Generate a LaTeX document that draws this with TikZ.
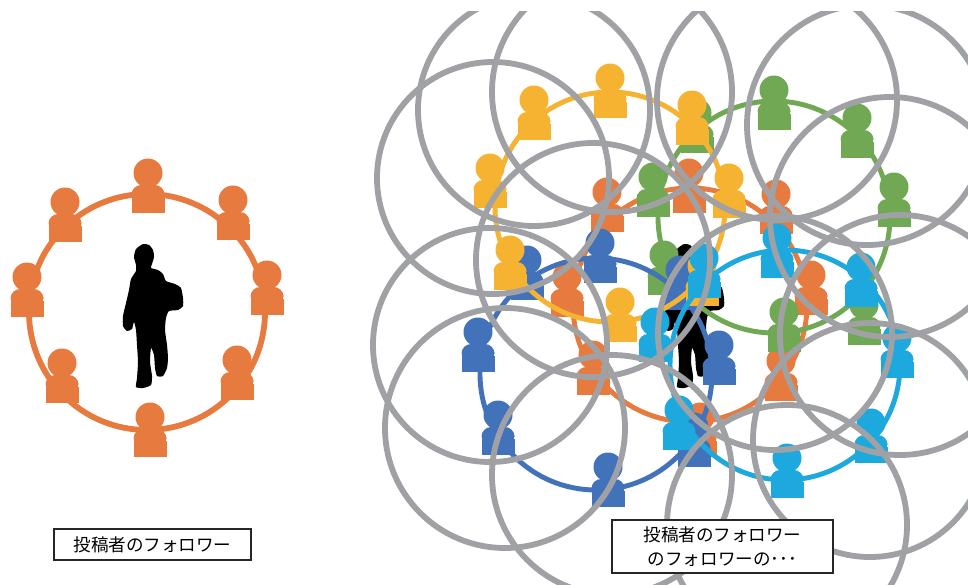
\documentclass[tikz,border=0pt]{standalone}
\usepackage{fontspec}
\newfontfamily\jpfont{Noto Sans CJK JP}
\definecolor{cOrange}{HTML}{E77B3F}
\definecolor{cYellow}{HTML}{F5B331}
\definecolor{cGreen}{HTML}{70A853}
\definecolor{cNavy}{HTML}{4272B9}
\definecolor{cSky}{HTML}{1DA9DD}
\definecolor{cGray}{HTML}{A0A1A5}
\tikzset{
  pics/person/.style={code={
    \fill[#1] (0,-24) circle[radius=14.5];
    \fill[#1,rounded corners=5.5pt] (-16.5,-12) rectangle (16.5,6);
    \fill[#1] (-16.5,0) rectangle (16.5,16);
  }},
  ring/.style={line width=2.8pt},
  bigring/.style={line width=3.3pt},
  grayring/.style={draw=cGray, line width=3.3pt},
  caption/.style={draw=black!85, fill=white, line width=0.6pt,
    font=\jpfont\fontsize{10}{13.6}\selectfont, align=center, inner sep=0pt}
}
% walking figure outline, drawn around (150,315)
\newcommand\walkerpath{plot[smooth cycle, tension=0.35] coordinates {
  (143,244) (149,245) (153,250) (154,257) (152,264) (151,268) (158,270)
  (163,274) (166,281) (175,284) (181,288) (183,298) (183,306) (178,310)
  (169,311) (166,318) (165,330) (167,345) (168,358) (167,368) (163,376)
  (157,376) (155,368) (154,355) (151,348) (150,362) (152,376) (151,385)
  (143,388) (136,387) (137,378) (138,362) (137,345) (136,330) (134,322)
  (132,329) (127,331) (123,326) (123,316) (126,303) (129,290) (131,279)
  (136,271) (136,265) (134,257) (136,249)}}
\begin{document}
\begin{tikzpicture}[x=0.02cm,y=-0.02cm]
\useasboundingbox (0,0) rectangle (968,585);
\fill[white] (0,0) rectangle (968,585);

% ---- a single poster and its followers ----
\fill[black] \walkerpath;
\draw[bigring, cOrange] (147,312) circle[radius=118];
\foreach \x/\y in {148/197, 65/226, 233/224, 27/301, 267/299, 62/387, 237/384, 150/441}
  \pic at (\x,\y) {person=cOrange};

% ---- followers of followers ----
\begin{scope}
\clip (330,11) rectangle (968,585);
\fill[black, shift={(541,0)}] \walkerpath;

\draw[ring, cOrange] (690,305) circle[radius=117];
\foreach \x/\y in {689/197, 607/216, 776/218, 567/301, 811/299, 593/379, 781/385, 700/441}
  \pic at (\x,\y) {person=cOrange};

\draw[ring, cGreen] (774,217) circle[radius=116];
\foreach \x/\y in {774/114, 857/142, 894/211, 697/137, 653/201, 664/279, 784/336, 864/329}
  \pic at (\x,\y) {person=cGreen};

\draw[ring, cNavy] (596,374) circle[radius=116];
\foreach \x/\y in {600/267, 527/284, 478/356, 498/439, 608/491, 694/451, 719/369, 680/294}
  \pic at (\x,\y) {person=cNavy};

\draw[ring, cYellow] (610,207) circle[radius=115];
\foreach \x/\y in {610/102, 534/124, 490/192, 510/274, 620/326, 692/129, 729/202, 702/290}
  \pic at (\x,\y) {person=cYellow};

\draw[ring, cSky] (785,365) circle[radius=115];
\foreach \x/\y in {777/262, 861/291, 897/362, 871/447, 787/482, 679/434, 655/346, 704/282}
  \pic at (\x,\y) {person=cSky};

% third level: grey follower circles
\foreach \cx/\cy/\r in {493/178/116, 534/110/116, 612/92/120, 777/100/120,
    867/125/120, 890/217/120, 593/260/117, 490/345/117, 505/428/120,
    612/475/120, 775/333/117, 870/440/117, 787/525/120, 900/335/120}
  \draw[grayring] (\cx,\cy) circle[radius=\r];
\end{scope}

% ---- captions ----
\node[caption, minimum width=3.94cm, minimum height=0.62cm] (capA) at (152.5,544.5)
  {投稿者のフォロワー};
\node[caption, minimum width=4.42cm, minimum height=1.06cm] (capB) at (722.5,546.5)
  {投稿者のフォロワー\\のフォロワーの･･･};
\end{tikzpicture}
\end{document}
